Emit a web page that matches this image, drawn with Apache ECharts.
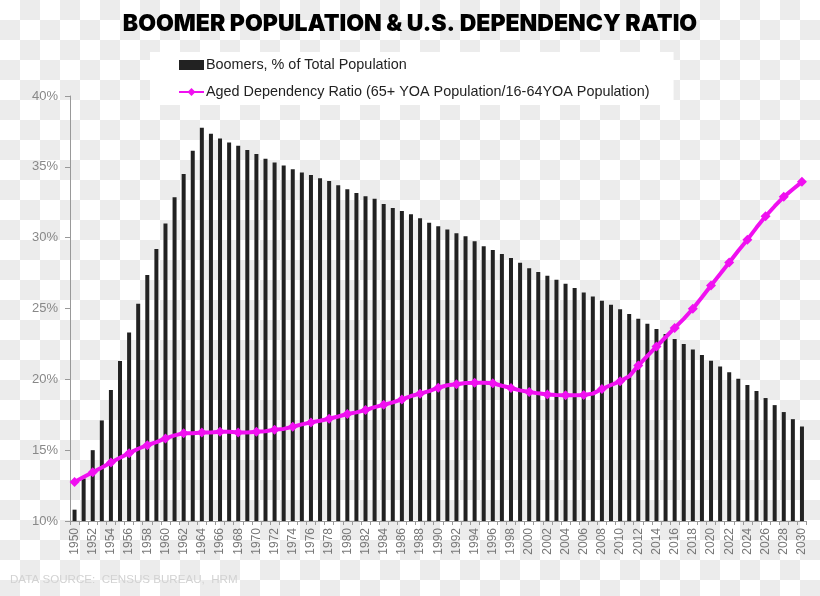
<!DOCTYPE html>
<html>
<head>
<meta charset="utf-8">
<script src="https://cdn.jsdelivr.net/npm/echarts@6/dist/echarts.min.js"></script>
<style>
html,body{margin:0;padding:0;}
body{
  background-color:#fff;
  background-image:linear-gradient(45deg,#ececec 25%,transparent 25%,transparent 75%,#ececec 75%),linear-gradient(45deg,#ececec 25%,transparent 25%,transparent 75%,#ececec 75%);
  background-size:40px 40px;
  background-position:0 0,20px 20px;
}
#chart{width:820px;height:596px;}
</style>
</head>
<body>
<div id="chart"></div>
<script>
var years = [];
for (var y = 1950; y <= 2030; y++) years.push(String(y));

var boomers = [
  10.8, 13.0, 15.0, 17.1, 19.25, 21.3, 23.3, 25.33, 27.36, 29.2,
  31.0, 32.85, 34.5, 36.13, 37.76, 37.33, 37.0, 36.72, 36.49, 36.18,
  35.9, 35.57, 35.3, 35.1, 34.83, 34.6, 34.43, 34.2, 34.0, 33.7,
  33.42, 33.16, 32.92, 32.74, 32.38, 32.1, 31.89, 31.65, 31.37, 31.06,
  30.8, 30.57, 30.31, 30.1, 29.74, 29.39, 29.13, 28.84, 28.56, 28.23,
  27.85, 27.57, 27.32, 27.03, 26.75, 26.44, 26.13, 25.85, 25.54, 25.26,
  24.95, 24.62, 24.27, 23.92, 23.56, 23.2, 22.85, 22.5, 22.1, 21.72,
  21.32, 20.9, 20.5, 20.05, 19.6, 19.17, 18.68, 18.18, 17.69, 17.19,
  16.67
];

var dependency = [
  12.76, 13.11, 13.44, 13.77, 14.13, 14.46, 14.79, 15.1, 15.35, 15.57,
  15.83, 16.04, 16.2, 16.2, 16.25, 16.25, 16.3, 16.3, 16.25, 16.25,
  16.3, 16.34, 16.45, 16.5, 16.65, 16.82, 16.96, 17.08, 17.22, 17.38,
  17.55, 17.67, 17.83, 18.04, 18.2, 18.37, 18.58, 18.82, 18.99, 19.17,
  19.41, 19.58, 19.65, 19.74, 19.76, 19.76, 19.72, 19.55, 19.39, 19.22,
  19.1, 19.01, 18.93, 18.89, 18.87, 18.87, 18.89, 18.99, 19.32, 19.6,
  19.86, 20.21, 20.97, 21.65, 22.31, 22.97, 23.63, 24.27, 24.98, 25.8,
  26.63, 27.43, 28.25, 29.08, 29.86, 30.71, 31.51, 32.22, 32.88, 33.42,
  33.94
];

var yTicks = { min: 10, max: 40, interval: 5 };

var chart = echarts.init(document.getElementById('chart'), null, {renderer: 'canvas'});
chart.setOption({
  backgroundColor: 'transparent',
  animation: false,
  title: {
    text: 'BOOMER POPULATION & U.S. DEPENDENCY RATIO',
    left: 'center',
    top: 8,
    textStyle: {
      fontFamily: 'Inter, "Liberation Sans", sans-serif',
      fontWeight: 900,
      fontSize: 23,
      color: '#000'
    }
  },
  legend: {
    orient: 'vertical',
    left: 150,
    top: 52,
    backgroundColor: '#fff',
    padding: [6, 24, 6, 28],
    itemGap: 13,
    itemWidth: 25,
    itemHeight: 10,
    textStyle: {
      fontFamily: '"Liberation Sans", Arial, sans-serif',
      fontSize: 14.4,
      color: '#222',
      padding: [0, 0, 0, -3]
    },
    data: [
      {name: 'Boomers, % of Total Population', icon: 'rect'},
      {name: 'Aged Dependency Ratio (65+ YOA Population/16-64YOA Population)'}
    ]
  },
  grid: {
    left: 70,
    right: 13.5,
    top: 96,
    bottom: 75,
    containLabel: false
  },
  xAxis: {
    type: 'category',
    data: years,
    boundaryGap: true,
    axisLine: {lineStyle: {color: '#999', width: 1}},
    axisTick: {show: true, interval: 0, length: 4, lineStyle: {color: '#999'}},
    axisLabel: {
      interval: 1,
      rotate: 90,
      margin: 7,
      fontFamily: '"Liberation Sans", Arial, sans-serif',
      fontSize: 12,
      color: '#777'
    },
    splitLine: {show: false}
  },
  yAxis: {
    type: 'value',
    min: yTicks.min,
    max: yTicks.max,
    interval: yTicks.interval,
    axisLine: {show: true, lineStyle: {color: '#999', width: 1}},
    axisTick: {show: true, length: 5, lineStyle: {color: '#999'}},
    axisLabel: {
      formatter: '{value}%',
      margin: 12,
      fontFamily: '"Liberation Sans", Arial, sans-serif',
      fontSize: 13,
      color: '#888'
    },
    splitLine: {show: false}
  },
  series: [
    {
      name: 'Boomers, % of Total Population',
      type: 'bar',
      data: boomers,
      barWidth: 4,
      itemStyle: {color: '#222'},
      z: 2
    },
    {
      name: 'Aged Dependency Ratio (65+ YOA Population/16-64YOA Population)',
      type: 'line',
      data: dependency,
      symbol: 'diamond',
      symbolSize: 10,
      showSymbol: true,
      lineStyle: {color: '#f010f0', width: 4},
      itemStyle: {color: '#f010f0'},
      z: 3
    }
  ],
  graphic: [
    {
      type: 'text',
      left: 10,
      top: 574,
      style: {
        text: 'DATA SOURCE:  CENSUS BUREAU,  HRM',
        fontFamily: '"Liberation Sans", Arial, sans-serif',
        fontSize: 11.6,
        fill: '#d2d2d2'
      }
    }
  ]
});
</script>
</body>
</html>
